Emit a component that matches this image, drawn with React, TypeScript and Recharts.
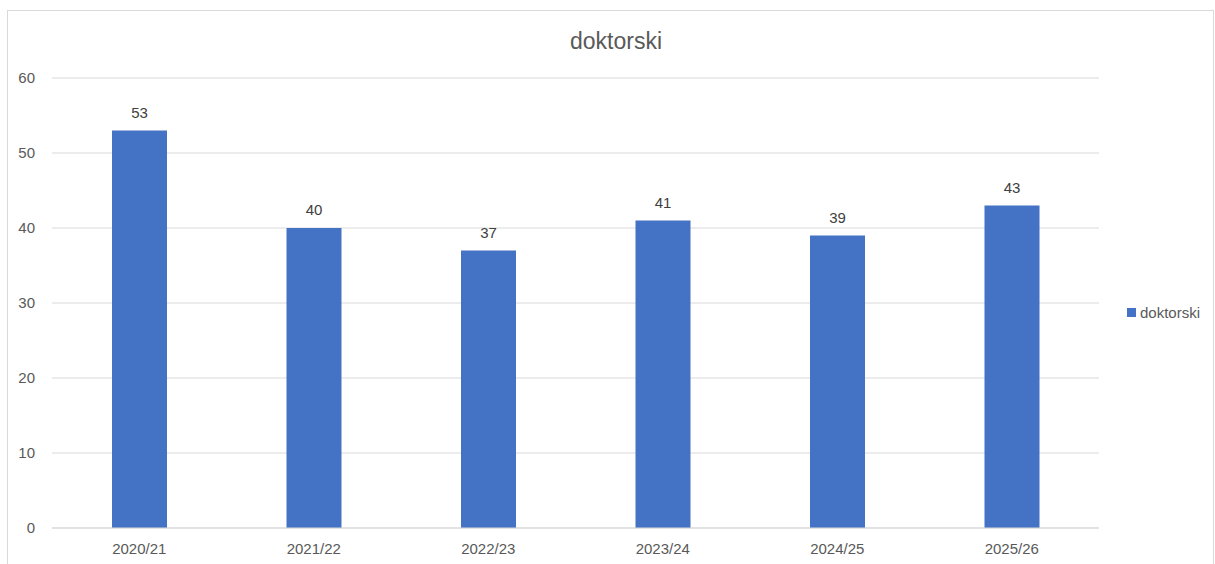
import React from 'react';
import { BarChart, Bar, XAxis, YAxis, CartesianGrid, LabelList } from 'recharts';

const years = ['2020/21', '2021/22', '2022/23', '2023/24', '2024/25', '2025/26'];
const doktorski = [53, 40, 37, 41, 39, 43];
const yTicks = [0, 10, 20, 30, 40, 50, 60];

const chartData = years.map((year, i) => ({ year, doktorski: doktorski[i] }));

const FONT = '"Liberation Sans", Arial, sans-serif';
const BAR_COLOR = '#4472C4';

const App: React.FC = () => {
    return (
        <div style={{ position: 'absolute', left: 0, top: 0, width: 1215, height: 564, background: '#fff', overflow: 'hidden' }}>
            <div
                style={{
                    position: 'absolute',
                    left: 7,
                    top: 10,
                    width: 1207,
                    height: 570,
                    border: '1px solid #d9d9d9',
                    boxSizing: 'border-box',
                }}
            />
            <div
                style={{
                    position: 'absolute',
                    left: 0,
                    top: 28,
                    width: 1232,
                    textAlign: 'center',
                    fontFamily: FONT,
                    fontSize: 23,
                    color: '#595959',
                }}
            >
                doktorski
            </div>
            <BarChart
                width={1215}
                height={564}
                data={chartData}
                margin={{ top: 78, right: 116, left: 0, bottom: 0 }}
            >
                <CartesianGrid vertical={false} stroke="#d9d9d9" />
                <XAxis
                    dataKey="year"
                    axisLine={{ stroke: '#d9d9d9' }}
                    tickLine={false}
                    tickSize={0}
                    tickMargin={15}
                    tick={{ fontFamily: FONT, fontSize: 15, fill: '#595959' }}
                    height={36}
                />
                <YAxis
                    domain={[0, 60]}
                    ticks={yTicks}
                    axisLine={false}
                    tickLine={false}
                    tickSize={0}
                    tickMargin={17}
                    width={52}
                    tick={{ fontFamily: FONT, fontSize: 15, fill: '#595959' }}
                />
                <Bar dataKey="doktorski" fill={BAR_COLOR} barSize={55} isAnimationActive={false}>
                    <LabelList
                        dataKey="doktorski"
                        position="top"
                        offset={13}
                        style={{ fontFamily: FONT, fontSize: 15, fill: '#404040' }}
                    />
                </Bar>
            </BarChart>
            <div
                style={{
                    position: 'absolute',
                    left: 1127,
                    top: 304,
                    display: 'flex',
                    alignItems: 'center',
                    fontFamily: FONT,
                    fontSize: 15,
                    color: '#595959',
                }}
            >
                <span style={{ width: 9, height: 9, background: BAR_COLOR, display: 'inline-block', marginRight: 4 }} />
                <span>doktorski</span>
            </div>
        </div>
    );
};

export default App;
